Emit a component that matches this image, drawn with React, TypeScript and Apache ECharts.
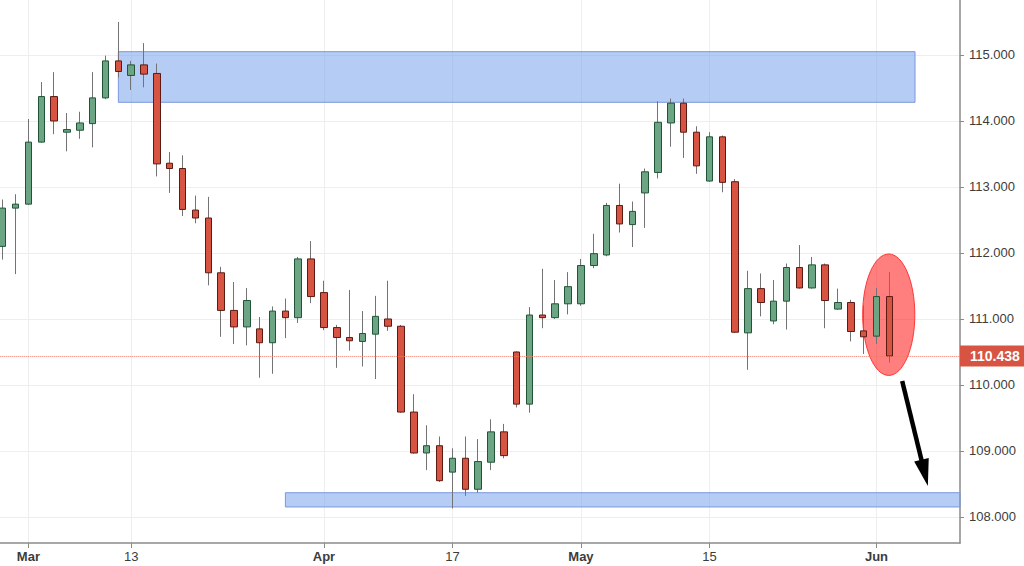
import { useEffect, useRef } from 'react';
import * as echarts from 'echarts';

// Trading days (2017) plus empty future days on the right
const dates = [
  '02-27', '02-28', '03-01', '03-02', '03-03', '03-06', '03-07', '03-08', '03-09', '03-10',
  '03-13', '03-14', '03-15', '03-16', '03-17', '03-20', '03-21', '03-22', '03-23', '03-24',
  '03-27', '03-28', '03-29', '03-30', '03-31', '04-03', '04-04', '04-05', '04-06', '04-07',
  '04-10', '04-11', '04-12', '04-13', '04-14', '04-17', '04-18', '04-19', '04-20', '04-21',
  '04-24', '04-25', '04-26', '04-27', '04-28', '05-01', '05-02', '05-03', '05-04', '05-05',
  '05-08', '05-09', '05-10', '05-11', '05-12', '05-15', '05-16', '05-17', '05-18', '05-19',
  '05-22', '05-23', '05-24', '05-25', '05-26', '05-29', '05-30', '05-31', '06-01', '06-02',
  '06-05', '06-06', '06-07', '06-08', '06-09',
];

const tickLabels: Record<string, string> = {
  '03-01': 'Mar', '03-13': '13', '04-03': 'Apr', '04-17': '17',
  '05-01': 'May', '05-15': '15', '06-01': 'Jun',
};
const monthLabels = ['Mar', 'Apr', 'May', 'Jun'];

const opens = [
  112.10, 112.68, 112.74, 113.68, 114.37, 113.83, 113.86, 113.96, 114.35, 114.91,
  114.69, 114.85, 114.72, 113.36, 113.28, 112.65, 112.53, 111.70, 111.13, 110.88,
  110.85, 110.64, 111.12, 111.02, 111.91, 111.40, 110.87, 110.72, 110.66, 110.77,
  111.00, 110.89, 109.59, 108.97, 109.08, 108.68, 108.89, 108.42, 108.83, 109.29,
  110.50, 109.71, 111.06, 111.02, 111.23, 111.23, 111.81, 111.97, 112.72, 112.43,
  112.91, 113.22, 113.97, 114.27, 113.83, 113.09, 113.76, 113.08, 110.79, 111.46,
  110.97, 111.27, 111.78, 111.47, 111.82, 111.15, 111.25, 110.82, 110.74, 111.34,
];
const closes = [
  112.68, 112.74, 113.68, 114.37, 114.00, 113.87, 113.97, 114.35, 114.91, 114.75,
  114.85, 114.71, 113.35, 113.28, 112.66, 112.53, 111.70, 111.13, 110.88, 111.28,
  110.64, 111.12, 111.02, 111.91, 111.34, 110.87, 110.72, 110.67, 110.78, 111.04,
  110.89, 109.59, 108.97, 109.08, 108.55, 108.89, 108.42, 108.84, 109.29, 108.93,
  109.71, 111.06, 111.02, 111.23, 111.49, 111.81, 111.99, 112.72, 112.44, 112.63,
  113.23, 113.98, 114.27, 113.83, 113.32, 113.76, 113.07, 110.80, 111.46, 111.25,
  111.27, 111.78, 111.47, 111.82, 111.28, 111.25, 110.81, 110.73, 111.34, 110.438,
];
const lows = [
  111.90, 111.68, 112.73, 113.67, 113.80, 113.54, 113.73, 113.60, 114.33, 114.66,
  114.47, 114.51, 113.16, 112.91, 112.56, 112.45, 111.51, 110.73, 110.62, 110.60,
  110.11, 110.17, 110.71, 110.94, 111.24, 110.83, 110.26, 110.52, 110.28, 110.09,
  110.82, 109.58, 108.96, 108.71, 108.53, 108.13, 108.32, 108.37, 108.71, 108.89,
  109.66, 109.58, 110.86, 111.00, 111.07, 111.20, 111.77, 111.95, 112.31, 112.09,
  112.38, 113.13, 113.61, 113.44, 113.20, 113.08, 112.92, 110.79, 110.23, 111.04,
  110.92, 110.84, 111.46, 111.46, 110.86, 111.14, 110.66, 110.47, 110.62, 110.34,
];
const highs = [
  112.81, 112.89, 114.03, 114.59, 114.74, 114.12, 114.14, 114.74, 114.99, 115.50,
  114.91, 115.18, 114.87, 113.53, 113.48, 112.87, 112.85, 111.79, 111.56, 111.47,
  111.03, 111.19, 111.31, 111.94, 112.18, 111.58, 110.91, 111.44, 111.12, 111.35,
  111.58, 110.91, 109.86, 109.39, 109.22, 109.04, 109.22, 109.18, 109.48, 109.41,
  110.51, 111.18, 111.76, 111.59, 111.71, 111.91, 112.29, 112.76, 113.05, 112.78,
  113.28, 114.30, 114.34, 114.34, 113.92, 113.83, 113.78, 113.12, 111.73, 111.69,
  111.59, 111.84, 112.12, 111.94, 111.84, 111.46, 111.29, 111.21, 111.47, 111.71,
];

const lastPrice = 110.438;

// Supply zone (top) and demand zone (bottom)
const topZoneDates = ['03-10', '06-06'];
const topZoneRange = [114.283, 115.05];
const bottomZoneStart = '03-29';
const bottomZoneRange = [108.152, 108.368];

// Annotation anchors (category index, price)
const ellipseAnchor = { index: 69, center: 111.065, top: 111.985 };
const arrowFrom = { index: 70, price: 110.06 };
const arrowTo = { index: 72, price: 108.47 };

const UP = '#6ba583';
const DOWN = '#d75442';
const UP_BORDER = '#225437';
const DOWN_BORDER = '#5b1a13';
const WICK = '#737375';
const FONT = '"Liberation Sans", Arial, Helvetica, sans-serif';
const TEXT = '#3c3c3c';

export default function App() {
  const ref = useRef<HTMLDivElement>(null);

  useEffect(() => {
    if (!ref.current) return;
    const chart = echarts.init(ref.current, undefined, { renderer: 'svg' });

    const ohlc = opens.map((o, i) => [o, closes[i], lows[i], highs[i]]);
    const bodies = opens.map((o, i) => [o, closes[i], Math.min(o, closes[i]), Math.max(o, closes[i])]);
    const showIdx = (i: number) => tickLabels[dates[i]] !== undefined;

    chart.setOption({
      animation: false,
      backgroundColor: '#ffffff',
      grid: {
        left: -3.72, right: 64, top: 0, bottom: 23,
        containLabel: false, outerBoundsMode: 'none',
      },
      xAxis: {
        type: 'category',
        data: dates,
        boundaryGap: true,
        axisLine: { show: true, lineStyle: { color: '#8a8a8a', width: 1.5 } },
        axisTick: {
          show: true,
          interval: (i: number) => showIdx(i),
          alignWithLabel: true,
          length: 5,
          lineStyle: { color: '#8a8a8a', width: 1 },
        },
        axisLabel: {
          interval: (i: number) => showIdx(i),
          margin: 7,
          color: TEXT,
          fontSize: 13,
          fontFamily: FONT,
          formatter: (v: string) => {
            const t = tickLabels[v] || '';
            return monthLabels.includes(t) ? `{b|${t}}` : t;
          },
          rich: {
            b: { fontWeight: 'bold', fontSize: 13, fontFamily: FONT, color: TEXT },
          },
        },
        splitLine: {
          show: true,
          interval: (i: number) => showIdx(i),
          alignWithLabel: true,
          lineStyle: { color: '#eeeeee', width: 1 },
        },
      },
      yAxis: {
        type: 'value',
        position: 'right',
        scale: true,
        min: 107.606,
        max: 115.833,
        minInterval: 1,
        maxInterval: 1,
        axisLine: { show: true, lineStyle: { color: '#8a8a8a', width: 1.5 } },
        axisTick: { show: true, length: 4, lineStyle: { color: '#8a8a8a' } },
        axisLabel: {
          margin: 9,
          color: TEXT,
          fontSize: 13,
          fontFamily: FONT,
          showMinLabel: false,
          showMaxLabel: false,
          formatter: (v: number) => v.toFixed(3),
        },
        splitLine: {
          show: true,
          showMinLine: false,
          showMaxLine: false,
          lineStyle: { color: '#eeeeee', width: 1 },
        },
      },
      series: [
        {
          name: 'wicks',
          type: 'candlestick',
          data: ohlc,
          barWidth: 1,
          itemStyle: {
            color: WICK, color0: WICK, borderColor: WICK, borderColor0: WICK, borderWidth: 1,
          },
          markArea: {
            silent: true,
            z: 1,
            itemStyle: {
              color: 'rgba(120,163,236,0.55)',
              borderColor: '#7b98de',
              borderWidth: 1,
            },
            data: [
              [
                { xAxis: topZoneDates[0], yAxis: topZoneRange[1] },
                { xAxis: topZoneDates[1], yAxis: topZoneRange[0] },
              ],
              [
                { xAxis: bottomZoneStart, yAxis: bottomZoneRange[1] },
                { yAxis: bottomZoneRange[0] },
              ],
            ],
          },
        },
        {
          name: 'USDJPY',
          type: 'candlestick',
          data: bodies,
          barWidth: 7,
          itemStyle: {
            color: UP, color0: DOWN, borderColor: UP_BORDER, borderColor0: DOWN_BORDER, borderWidth: 1,
          },
          markLine: {
            silent: true,
            symbol: ['none', 'none'],
            lineStyle: { color: '#ee7a68', type: 'dotted', width: 1 },
            label: {
              show: true,
              position: 'end',
              distance: 0,
              formatter: () => lastPrice.toFixed(3),
              backgroundColor: DOWN,
              color: '#ffffff',
              fontWeight: 'bold',
              fontSize: 14,
              fontFamily: FONT,
              padding: [4, 6, 3, 10],
            },
            data: [{ yAxis: lastPrice }],
          },
        },
      ],
    });

    const px = (i: number, v: number) =>
      chart.convertToPixel({ gridIndex: 0 }, [i, v]) as number[];
    const c = px(ellipseAnchor.index, ellipseAnchor.center);
    const t = px(ellipseAnchor.index, ellipseAnchor.top);
    const band = px(ellipseAnchor.index + 1, 0)[0] - px(ellipseAnchor.index, 0)[0];
    const a0 = px(arrowFrom.index, arrowFrom.price);
    const a1 = px(arrowTo.index, arrowTo.price);
    const dx = a1[0] - a0[0];
    const dy = a1[1] - a0[1];
    const len = Math.sqrt(dx * dx + dy * dy);
    const ux = dx / len;
    const uy = dy / len;
    const headLen = 27;
    const headHalf = 7.5;
    const base = [a1[0] - ux * headLen, a1[1] - uy * headLen];

    chart.setOption({
      graphic: [
        {
          type: 'ellipse',
          z: 1,
          silent: true,
          shape: { cx: c[0] - 0.6, cy: c[1], rx: band * 2.03, ry: c[1] - t[1] },
          style: { fill: 'rgba(255,0,0,0.5)', stroke: 'rgba(255,40,40,0.9)', lineWidth: 1 },
        },
        {
          type: 'line',
          z: 10,
          silent: true,
          shape: { x1: a0[0], y1: a0[1], x2: base[0] + ux * 2, y2: base[1] + uy * 2 },
          style: { stroke: '#000000', lineWidth: 4.5 },
        },
        {
          type: 'polygon',
          z: 10,
          silent: true,
          shape: {
            points: [
              [a1[0], a1[1]],
              [base[0] - uy * headHalf, base[1] + ux * headHalf],
              [base[0] + uy * headHalf, base[1] - ux * headHalf],
            ],
          },
          style: { fill: '#000000' },
        },
      ],
    });

    return () => chart.dispose();
  }, []);

  return (
    <div
      ref={ref}
      style={{ position: 'fixed', left: 0, top: 0, width: 1024, height: 566 }}
    />
  );
}
